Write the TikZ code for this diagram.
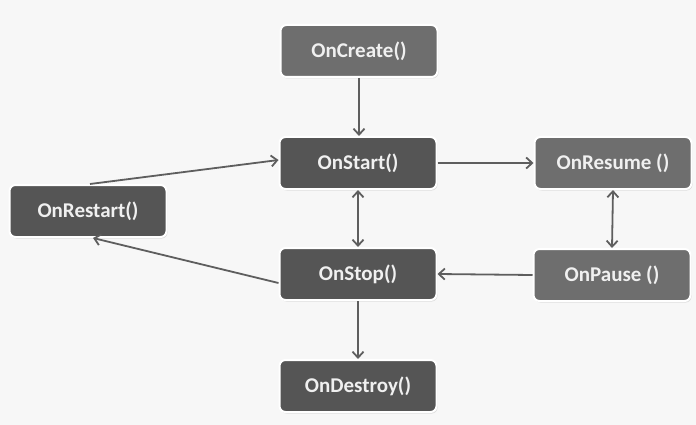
\documentclass[tikz,border=0pt]{standalone}
\usepackage{fontspec}
\setmainfont{Carlito}
\usetikzlibrary{arrows.meta,shadows}
\definecolor{bg}{HTML}{F7F7F7}
\definecolor{darkbox}{HTML}{555555}
\definecolor{lightbox}{HTML}{6E6E6E}
\definecolor{linec}{HTML}{5E5E5E}
\tikzset{
  box/.style={rounded corners=6pt, draw=white, line width=2pt, minimum width=157pt, minimum height=52pt,
    text=white!94!black, font=\bfseries\fontsize{21}{24}\selectfont,
    drop shadow={shadow xshift=1pt, shadow yshift=-1.5pt, fill=black!25}},
  dbox/.style={box, fill=darkbox},
  lbox/.style={box, fill=lightbox},
  conn/.style={draw=linec, line width=1.8pt, -{Straight Barb[length=6pt,width=11pt,line width=1.8pt]}},
  conn2/.style={draw=linec, line width=1.8pt, {Straight Barb[length=6pt,width=11pt,line width=1.8pt]}-{Straight Barb[length=6pt,width=11pt,line width=1.8pt]}}
}
\begin{document}
\begin{tikzpicture}[x=1pt,y=-1pt]
\fill[bg] (0,0) rectangle (696,425);
\useasboundingbox (0,0) rectangle (696,425);
\node[lbox] (create) at (359,51) {OnCreate()};
\node[dbox] (start) at (358,163) {OnStart()};
\node[lbox] (resume) at (613,163) {OnResume ()};
\node[dbox] (restart) at (88,211) {OnRestart()};
\node[dbox] (stop) at (358,274) {OnStop()};
\node[lbox] (pause) at (612,275) {OnPause ()};
\node[dbox] (destroy) at (358,386) {OnDestroy()};
\draw[conn] (create.south) -- (create.south |- start.north);
\draw[conn] (start.east) -- (resume.west);
\draw[conn2] (resume.south) -- (pause.north);
\draw[conn] (pause.west) -- (stop.east);
\draw[conn2] (start.south) -- (stop.north);
\draw[conn] (stop.south) -- (destroy.north);
\draw[conn] ([yshift=-9pt]stop.west) -- ([xshift=5pt]restart.south);
\draw[conn] ([xshift=2pt]restart.north) -- ([yshift=3pt]start.west);
\end{tikzpicture}
\end{document}
